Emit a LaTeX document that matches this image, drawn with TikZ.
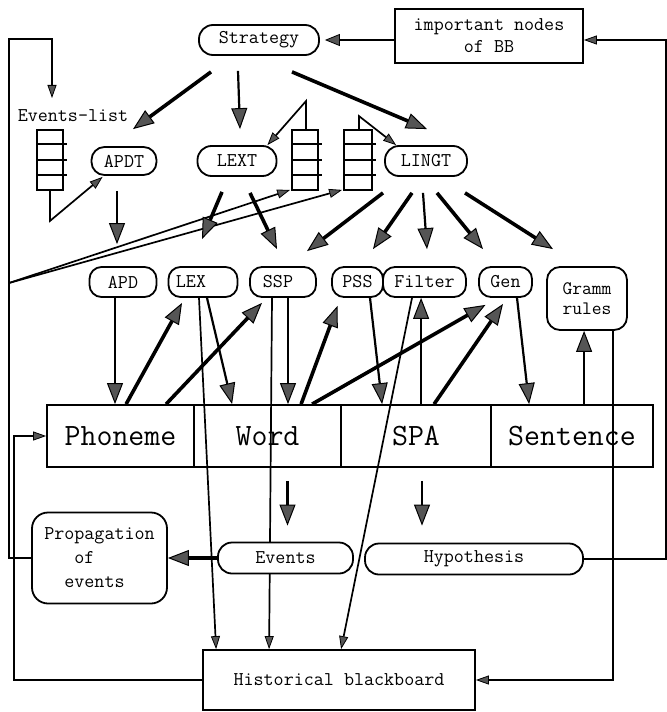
\documentclass[tikz,border=0pt]{standalone}
\usepackage{fontspec}
\usetikzlibrary{arrows.meta,calc,backgrounds}
\definecolor{headgray}{HTML}{555555}
\newcommand{\smallfnt}{\ttfamily\fontsize{19.5bp}{22bp}\selectfont}
\newcommand{\bigfnt}{\ttfamily\fontsize{31bp}{34bp}\selectfont}
\newcommand{\grammfnt}{\ttfamily\fontsize{19bp}{20bp}\selectfont}
\newcommand{\propfnt}{\ttfamily\fontsize{19.5bp}{24bp}\selectfont}
\begin{document}
\begin{tikzpicture}[x=1bp,y=-1bp,
  boxline/.style={line width=1.8bp},
  pillbox/.style={draw,boxline,fill=white,rounded corners=13bp,minimum height=28bp,inner sep=0pt,font=\smallfnt},
  rbox/.style={draw,boxline,fill=white,rounded corners=12bp,minimum height=30bp,inner sep=0pt,font=\smallfnt},
  cellbox/.style={draw,boxline,minimum height=62bp,inner sep=0pt,font=\bigfnt},
  queuebox/.style={draw,boxline,minimum width=26bp,minimum height=60bp,inner sep=0pt},
  bighead/.style={-{Triangle[length=21bp,width=16bp,fill=headgray,line width=1bp]}},
  smallhead/.style={-{Triangle[length=13bp,width=9bp,fill=headgray,line width=0.8bp]}},
  midhead/.style={-{Triangle[length=15bp,width=12bp,fill=headgray,line width=0.8bp]}},
  thickln/.style={line width=3.6bp},
  midln/.style={line width=2.2bp},
  thinln/.style={line width=1.7bp},
]
\useasboundingbox (0,0) rectangle (667,712);

% ---------- nodes ----------
\node[pillbox,minimum width=120bp,minimum height=30bp,rounded corners=14bp] (strategy) at (259,40) {Strategy};
\node[draw,boxline,minimum width=188bp,minimum height=54bp,align=center,font=\smallfnt,inner sep=0pt] (imp) at (489,36) {important nodes\\of BB};
\node[font=\smallfnt,inner sep=0pt] (evlist) at (73,116) {Events-list};
\node[queuebox] (q1) at (50,160) {};
\node[queuebox] (q2) at (305,160) {};
\node[queuebox,minimum width=28bp] (q3) at (358,160) {};
\foreach \q in {q1,q2,q3} {
  \foreach \k in {15,31,46} {
    \draw[boxline] ($(\q.north west)+(0,\k)$) -- ($(\q.north east)+(3,\k)$);
  }
}
\node[pillbox,minimum width=65bp] (apdt) at (124,161) {APDT};
\node[pillbox,minimum width=79bp,minimum height=30bp,rounded corners=14bp] (lext) at (237,161) {LEXT};
\node[pillbox,minimum width=82bp,minimum height=30bp,rounded corners=14bp] (lingt) at (426,161) {LINGT};

\node[rbox,minimum width=67bp] (apd) at (123,282) {APD};
\node[rbox,minimum width=69bp] (lex) at (203,282) {LEX\hspace*{24bp}};
\node[rbox,minimum width=66bp] (ssp) at (283,282) {SSP\hspace*{10bp}};
\node[rbox,minimum width=51bp] (pss) at (357.5,282) {PSS};
\node[rbox,minimum width=83bp] (filter) at (424.5,282) {Filter};
\node[rbox,minimum width=53bp] (gen) at (505.5,282) {Gen};
\node[rbox,minimum width=80bp,minimum height=63bp,rounded corners=13bp,align=center,font=\grammfnt] (gramm) at (587,298.5) {Gramm\\rules};

\node[cellbox,minimum width=147bp] (phoneme) at (120.5,436) {Phoneme};
\node[cellbox,minimum width=147bp] (word) at (267.5,436) {Word};
\node[cellbox,minimum width=150bp] (spa) at (416,436) {SPA};
\node[cellbox,minimum width=162bp] (sentence) at (572,436) {Sentence};

\node[pillbox,minimum width=135bp,minimum height=31bp,rounded corners=14bp] (events) at (285.5,558) {Events};
\node[pillbox,minimum width=218bp,minimum height=31bp,rounded corners=14bp] (hyp) at (474,559) {Hypothesis};
\node[draw,boxline,fill=white,rounded corners=16bp,minimum width=135bp,minimum height=91bp,align=left,inner sep=0pt,font=\propfnt] (prop) at (99.5,558) {Propagation\\\phantom{xxx}of\\\phantom{xx}events};
\node[draw,boxline,minimum width=272bp,minimum height=60bp,font=\smallfnt,inner sep=0pt] (hist) at (339,680) {Historical blackboard};

% ---------- connectors ----------
\begin{scope}[on background layer]
  \fill[white] (0,0) rectangle (667,712);
  \draw[thinln,smallhead] ($(ssp.south)+(-11,0)$) -- ($(hist.north west)+(67,0)$);
\end{scope}

% top
\draw[thinln,midhead] ($(imp.west)+(0,4)$) -- ($(strategy.east)+(5,0)$);
\draw[thinln,smallhead] (hyp.east) -- ++(82,0) |- ($(imp.east)+(0,4)$);

% left loop
\coordinate (tl) at (9,39);
\coordinate (elin) at (52,98);
\draw[thinln,smallhead] (prop.west) -| (tl) -| (elin);
\coordinate (lb) at (9,283);
\draw[thinln,smallhead] (lb) -- ($(q2.south west)+(-1,-1)$);
\draw[thinln,smallhead] (lb) -- ($(q3.south west)+(-1,-1)$);

% queues
\draw[thinln,smallhead] (q1.south) -- ++(0,30) -- ($(apdt.south west)+(12,1)$);
\draw[thinln,smallhead] ($(q2.north)+(1,0)$) -- ++(0,-28) -- ($(lext.north east)+(-10,0)$);
\draw[thinln,smallhead] ($(q3.north)+(1,0)$) -- ++(0,-13) -- ($(lingt.north west)+(12,0)$);

% strategy
\draw[thickln,bighead] ($(strategy.south)+(-48,16)$) -- ($(apdt.north)+(9,-17)$);
\draw[midln,bighead] ($(strategy.south)+(-21,15)$) -- ($(lext.north)+(3,-16)$);
\draw[thickln,bighead] ($(strategy.south)+(33,16)$) -- ($(lingt.north)+(1,-16)$);

% second level
\draw[thinln,bighead] ($(apdt.south)+(-7,15)$) -- ($(apd.north)+(-6,-22)$);
\draw[thickln,bighead] ($(lext.south)+(-15,15)$) -- ($(lex.north)+(-1,-27)$);
\draw[thickln,bighead] ($(lext.south)+(13,16)$) -- ($(ssp.north)+(-6,-17)$);
\draw[thickln,bighead] ($(lingt.south)+(-43,16)$) -- ($(ssp.north)+(24,-15)$);
\draw[thickln,bighead] ($(lingt.south)+(-14,16)$) -- ($(pss.north)+(15.5,-17)$);
\draw[midln,bighead] ($(lingt.south)+(-3,16)$) -- ($(filter.north)+(2.5,-17)$);
\draw[thickln,bighead] ($(lingt.south)+(11,16)$) -- ($(gen.north)+(-22.5,-17)$);
\draw[thickln,bighead] ($(lingt.south)+(39,16)$) -- ($(gramm.north)+(-34,-17)$);

% bar connections
\draw[thinln,bighead] ($(apd.south)+(-8,0)$) coordinate (a1) -- (a1 |- phoneme.north);
\draw[thickln,bighead] ($(phoneme.north west)+(80,0)$) -- ($(lex.south)+(-21,5)$);
\draw[thickln,bighead] ($(phoneme.north west)+(120,0)$) -- ($(ssp.south)+(-21,5)$);
\draw[midln,bighead] ($(lex.south)+(4,0)$) -- ($(word.north west)+(39,0)$);
\draw[thinln,smallhead] ($(lex.south)+(-4,0)$) -- ($(hist.north west)+(14,0)$);
\draw[midln,bighead] ($(ssp.south)+(5,0)$) coordinate (s1) -- (s1 |- word.north);
\draw[thickln,bighead] ($(word.north west)+(108,0)$) -- ($(pss.south)+(-20,8)$);
\draw[thickln,bighead] ($(word.north west)+(119,0)$) -- ($(gen.south)+(-20,7)$);
\draw[midln,bighead] ($(pss.south)+(12.5,0)$) -- ($(spa.north west)+(42,0)$);
\draw[thinln,smallhead] ($(filter.south)+(-12.5,0)$) -- ($(hist.north west)+(139,0)$);
\draw[midln,bighead] ($(spa.north west)+(81,0)$) coordinate (f1) -- (f1 |- filter.south);
\draw[thickln,bighead] ($(spa.north west)+(94,0)$) -- ($(gen.south)+(-2.5,6)$);
\draw[midln,bighead] ($(gen.south)+(11.5,0)$) -- ($(sentence.north west)+(39,0)$);
\draw[midln,bighead] ($(sentence.north west)+(94,0)$) coordinate (g1) -- (g1 |- gramm.south);
\draw[thinln,smallhead] ($(gramm.south)+(26,0)$) |- (hist.east);

% below bar
\draw[midln,bighead] ($(word.south)+(20,13)$) -- ($(events.north)+(2,-16)$);
\draw[midln,bighead] ($(spa.south)+(6,13)$) -- ($(hyp.north)+(-52,-17)$);
\draw[thickln,bighead] (events.west) -- (prop.east);
\draw[thinln,smallhead] (hist.west) -- ++(-188,0) |- (phoneme.west);
\end{tikzpicture}
\end{document}
